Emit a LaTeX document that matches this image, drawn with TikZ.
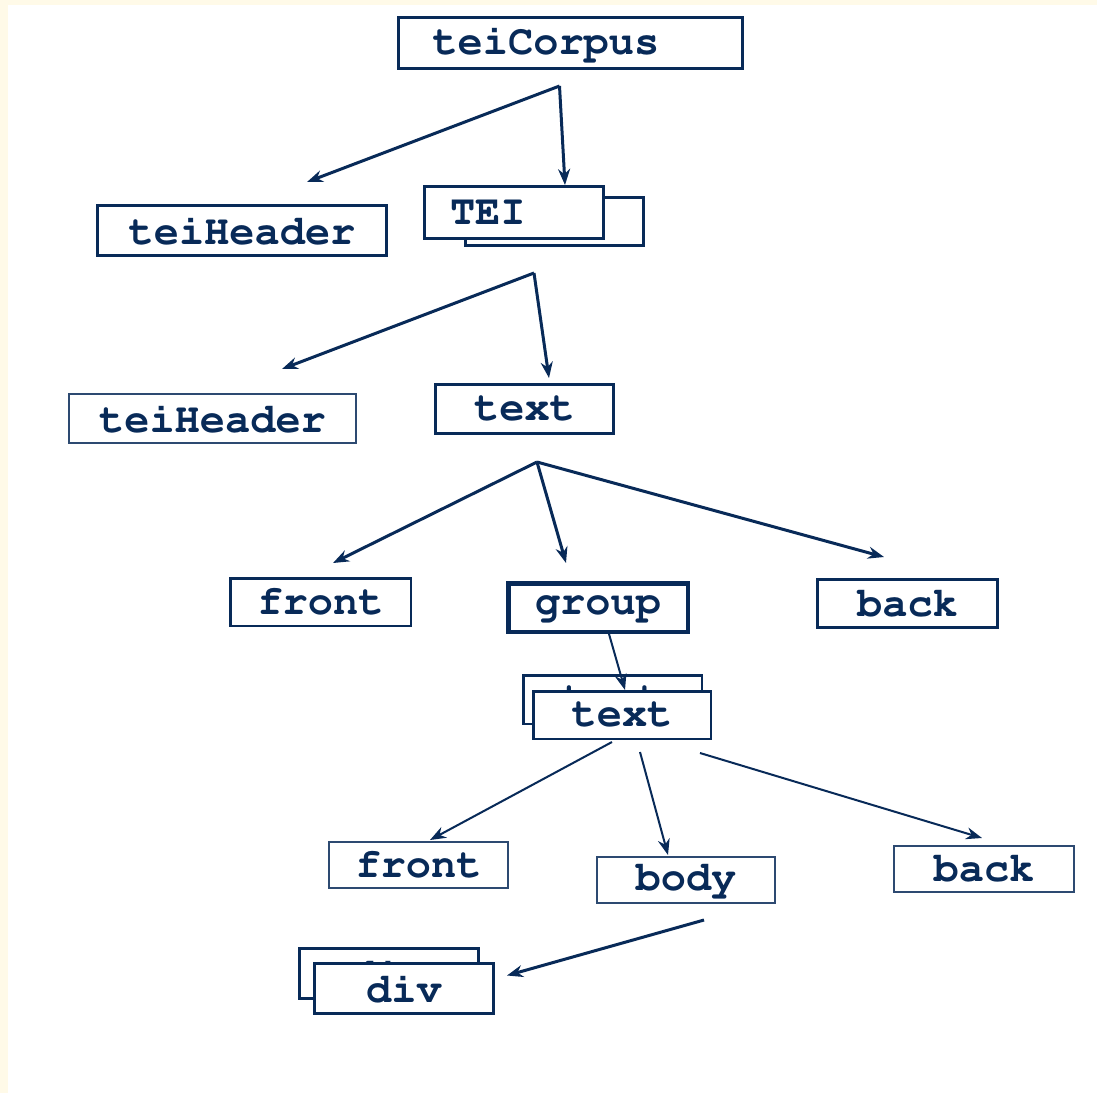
\documentclass[tikz,border=0pt]{standalone}
\usepackage[T1]{fontenc}
\usetikzlibrary{arrows.meta,calc}
\definecolor{navy}{RGB}{8,42,88}
\definecolor{cream}{RGB}{255,250,232}
\tikzstyle{elem} = [draw=navy, text=navy, fill=white, rectangle, line width=3pt, inner sep=0pt, font=\fontfamily{pcr}\bfseries\fontsize{42}{42}\selectfont]
\tikzstyle{light} = [elem, draw=navy!85, line width=2pt]
\tikzstyle{leftish} = [text width=#1, align=left, inner xsep=25.5pt]
\tikzstyle{line} = [draw=navy, line width=3pt, -{Stealth[length=16pt,width=12pt]}]
\tikzstyle{fine} = [line, line width=2pt]

\begin{document}
\begin{tikzpicture}[x=1pt, y=-1pt]
    \fill[cream] (0,0) rectangle (1097,1093);
    \fill[white] (8,5) rectangle (1097,1093);
    \useasboundingbox (0,0) rectangle (1097,1093);

    \node [elem, minimum width=344pt, minimum height=51pt, leftish=276pt, inner xsep=34pt] (corpus) at (570.5,43) {teiCorpus};
    \node [elem, minimum width=289pt, minimum height=50pt] (hdr-a) at (242,230.5) {teiHeader};
    \node [elem, minimum width=178pt, minimum height=48pt, leftish=127pt] (tei-b) at (554,221.5) {TEI};
    \node [elem, minimum width=179pt, minimum height=52pt, leftish=128pt] (tei-f) at (514,212.5) {TEI};
    \node [light, minimum width=287pt, minimum height=49pt] (hdr-b) at (212.5,418.5) {teiHeader};
    \node [elem, minimum width=178pt, minimum height=49pt] (text-a) at (524.5,409) {text};
    \node [elem, line width=2.5pt, minimum width=180.5pt, minimum height=47.5pt] (front-a) at (320.5,602) {front};
    \node [elem, line width=4.5pt, minimum width=179.5pt, minimum height=48.5pt] (group) at (598,607.5) {group};
    \node [elem, minimum width=180pt, minimum height=48pt] (back-a) at (907.5,603.5) {back};
    \node [elem, line width=2.5pt, minimum width=178.5pt, minimum height=48.5pt] (text-b) at (612.5,699.5) {text};
    \node [elem, line width=2.5pt, minimum width=177.5pt, minimum height=47.5pt] (text-f) at (622,715) {text};
    \node [light, minimum width=179pt, minimum height=46pt] (front-b) at (418.5,865) {front};
    \node [light, minimum width=178pt, minimum height=46pt] (body) at (686,880) {body};
    \node [light, minimum width=180pt, minimum height=46pt] (back-b) at (984,869) {back};
    \node [elem, minimum width=179pt, minimum height=50pt] (div-b) at (389,973.5) {div};
    \node [elem, minimum width=179pt, minimum height=50pt] (div-f) at (404,988.5) {div};

    % fork points under the parents
    \coordinate (corpus-fork) at ($(corpus.south)+(-11,16)$);
    \coordinate (tei-fork) at ($(tei-b.south)+(-20,26)$);
    \coordinate (text-fork) at ($(text-a.south)+(12.5,27)$);

    \path [line](corpus-fork) -- ($(hdr-a.north)+(65,-22)$);
    \path [line](corpus-fork) -- ($(tei-f.north)+(51,0)$);
    \path [line](tei-fork) -- ($(hdr-b.north)+(69.5,-24)$);
    \path [line](tei-fork) -- ($(text-a.north)+(24.5,-5)$);
    \path [line](text-fork) -- ($(front-a.north)+(12.5,-14)$);
    \path [line](text-fork) -- ($(group.north)+(-32,-18)$);
    \path [line](text-fork) -- ($(back-a.north)+(-23.5,-21)$);
    \path [fine]($(group.south)+(11,0)$) -- ($(text-f.north)+(3,0)$);
    \path [fine]($(text-f.south)+(-10,2)$) -- ($(front-b.north)+(11.5,-1)$);
    \path [fine]($(text-f.south)+(18,12)$) -- ($(body.north)+(-18,-1)$);
    \path [fine]($(text-f.south)+(78,13)$) -- ($(back-b.north)+(-2,-7)$);
    \path [line]($(body.south)+(18,16)$) -- ($(div-f.east)+(12,-13)$);
\end{tikzpicture}
\end{document}
